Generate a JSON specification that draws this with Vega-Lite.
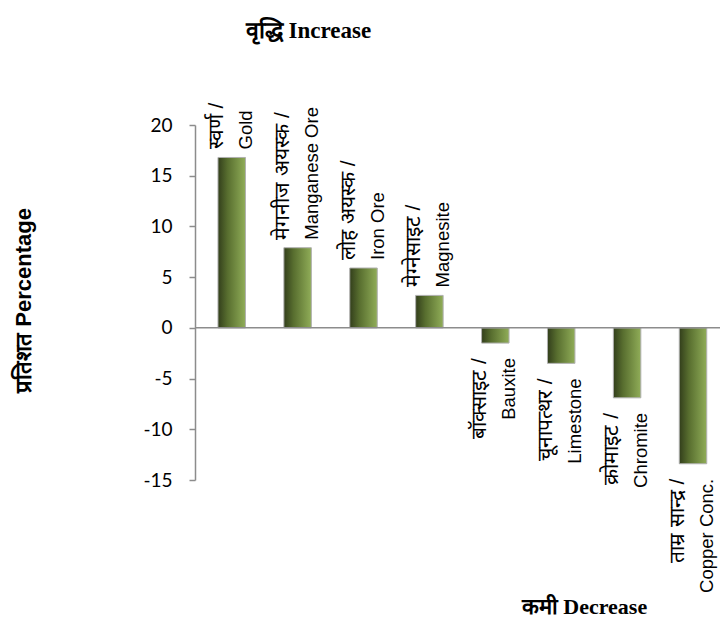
{
  "$schema": "https://vega.github.io/schema/vega-lite/v6.json",
  "width": 525,
  "height": 355,
  "autosize": {"type": "none"},
  "padding": {"left": 195, "top": 125, "right": 0, "bottom": 141},
  "background": "white",
  "config": {"view": {"stroke": null}},
  "title": {
    "text": "वृद्धि Increase",
    "font": "Liberation Serif",
    "fontSize": 23,
    "fontWeight": "bold",
    "color": "black",
    "anchor": "middle",
    "dx": -149,
    "dy": -56
  },
  "data": {
    "values": [
      {"mineral": "Gold", "hi": "स्वर्ण /", "en": "Gold", "value": 16.8},
      {"mineral": "Manganese Ore", "hi": "मेगनीज अयस्क /", "en": "Manganese Ore", "value": 7.9},
      {"mineral": "Iron Ore", "hi": "लोह अयस्क /", "en": "Iron Ore", "value": 5.9},
      {"mineral": "Magnesite", "hi": "मेग्नेसाइट /", "en": "Magnesite", "value": 3.2},
      {"mineral": "Bauxite", "hi": "बॉक्साइट /", "en": "Bauxite", "value": -1.5},
      {"mineral": "Limestone", "hi": "चूनापत्थर /", "en": "Limestone", "value": -3.5},
      {"mineral": "Chromite", "hi": "क्रोमाइट /", "en": "Chromite", "value": -6.9},
      {"mineral": "Copper Conc.", "hi": "ताम्र सान्द्र /", "en": "Copper Conc.", "value": -13.4}
    ]
  },
  "layer": [
    {
      "mark": {
        "type": "bar",
        "stroke": "#b0b0b0",
        "strokeWidth": 1,
        "color": {
          "gradient": "linear",
          "x1": 0, "y1": 0, "x2": 1, "y2": 0,
          "stops": [
            {"offset": 0, "color": "#323e1b"},
            {"offset": 0.35, "color": "#586e2f"},
            {"offset": 1, "color": "#90ad58"}
          ]
        }
      },
      "encoding": {
        "x": {
          "field": "mineral",
          "type": "nominal",
          "sort": null,
          "scale": {"paddingInner": 0.583, "paddingOuter": 0.275, "align": 0.634, "round": false},
          "axis": {
            "title": "कमी Decrease",
            "labels": false,
            "ticks": false,
            "domain": false,
            "titleX": 389,
            "titleY": 133,
            "titleAlign": "center",
            "titleBaseline": "alphabetic",
            "titleFont": "Liberation Serif",
            "titleFontSize": 22,
            "titleFontWeight": "bold",
            "titleColor": "black"
          }
        },
        "y": {
          "field": "value",
          "type": "quantitative",
          "scale": {"domain": [-15, 20], "nice": false, "zero": false},
          "axis": {
            "title": "प्रतिशत Percentage",
            "values": [-15, -10, -5, 0, 5, 10, 15, 20],
            "labelExpr": "replace(datum.label, '−', '-')",
            "grid": false,
            "domainColor": "#8c8c8c",
            "domainWidth": 1.5,
            "tickColor": "#8c8c8c",
            "tickWidth": 1.5,
            "tickSize": 6,
            "labelPadding": 17,
            "labelFont": "Lato",
            "labelFontSize": 19,
            "labelColor": "black",
            "titleFont": "Liberation Sans",
            "titleFontSize": 22,
            "titleFontWeight": "bold",
            "titleColor": "black",
            "titleX": -172,
            "titleY": 175,
            "titleAngle": 270,
            "titleAlign": "center",
            "titleBaseline": "middle"
          }
        }
      }
    },
    {
      "data": {"values": [{"zero": 0}]},
      "mark": {"type": "rule", "color": "#8c8c8c", "strokeWidth": 1.5},
      "encoding": {"y": {"field": "zero", "type": "quantitative"}}
    },
    {
      "transform": [{"filter": "datum.value > 0"}],
      "mark": {
        "type": "text", "angle": 270, "align": "left", "baseline": "middle",
        "dx": 8, "dy": -15, "font": "Liberation Sans", "fontSize": 21, "color": "black"
      },
      "encoding": {
        "x": {"field": "mineral", "type": "nominal", "sort": null},
        "y": {"field": "value", "type": "quantitative"},
        "text": {"field": "hi", "type": "nominal"}
      }
    },
    {
      "transform": [{"filter": "datum.value > 0"}],
      "mark": {
        "type": "text", "angle": 270, "align": "left", "baseline": "middle",
        "dx": 8, "dy": 14, "font": "Liberation Sans", "fontSize": 18.5, "color": "black"
      },
      "encoding": {
        "x": {"field": "mineral", "type": "nominal", "sort": null},
        "y": {"field": "value", "type": "quantitative"},
        "text": {"field": "en", "type": "nominal"}
      }
    },
    {
      "transform": [{"filter": "datum.value < 0"}],
      "mark": {
        "type": "text", "angle": 270, "align": "right", "baseline": "middle",
        "dx": -15, "dy": -15, "font": "Liberation Sans", "fontSize": 21, "color": "black"
      },
      "encoding": {
        "x": {"field": "mineral", "type": "nominal", "sort": null},
        "y": {"field": "value", "type": "quantitative"},
        "text": {"field": "hi", "type": "nominal"}
      }
    },
    {
      "transform": [{"filter": "datum.value < 0"}],
      "mark": {
        "type": "text", "angle": 270, "align": "right", "baseline": "middle",
        "dx": -15, "dy": 14, "font": "Liberation Sans", "fontSize": 18.5, "color": "black"
      },
      "encoding": {
        "x": {"field": "mineral", "type": "nominal", "sort": null},
        "y": {"field": "value", "type": "quantitative"},
        "text": {"field": "en", "type": "nominal"}
      }
    }
  ]
}
